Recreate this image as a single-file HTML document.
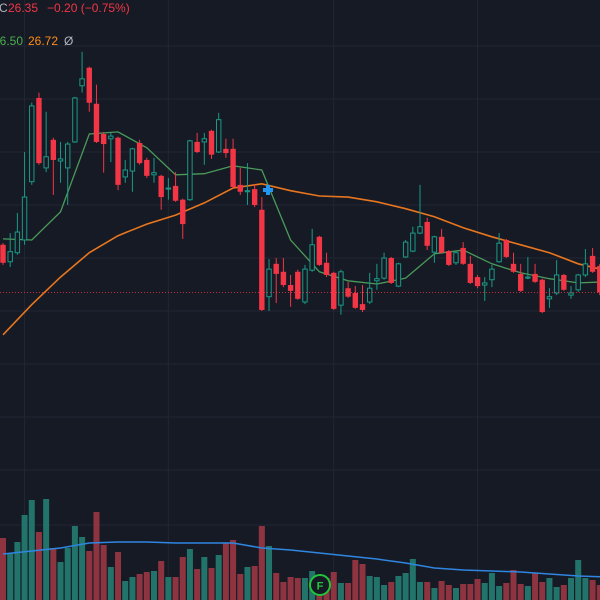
<!DOCTYPE html>
<html><head><meta charset="utf-8"><style>
html,body{margin:0;padding:0;background:#161a25;}
svg{display:block;font-family:"Liberation Sans",sans-serif;}
</style></head><body>
<svg id="chart" width="600" height="600" viewBox="0 0 600 600" xmlns="http://www.w3.org/2000/svg">
<rect x="0" y="0" width="600" height="600" fill="#161a25"/>
<g id="grid"></g>
<g id="vol"></g>
<g id="mas"></g>
<g id="candles"></g>
<line x1="0" x2="600" y1="292.5" y2="292.5" stroke="#f23645" stroke-width="1" stroke-dasharray="1,2" opacity="0.8"/>
<g>
<text x="-1" y="12" font-size="12" fill="#b2b5be">C</text>
<text x="8" y="12" font-size="12" fill="#f23645">26.35</text>
<text x="47" y="12" font-size="12" fill="#f23645">−0.20 (−0.75%)</text>
<text x="-7" y="45" font-size="12" fill="#4caf50">26.50</text>
<text x="28" y="45" font-size="12" fill="#ff8c1a">26.72</text>
<text x="64" y="45" font-size="12" fill="#b2b5be">Ø</text>
</g>
<g fill="#2196f3">
<rect x="263" y="188" width="10" height="4"/><rect x="266" y="185" width="4" height="10"/>
</g>
<g>
<circle cx="320" cy="585" r="10" fill="#161a25" stroke="#22c43a" stroke-width="2"/>
<text x="320" y="589.5" font-size="11" font-weight="bold" fill="#22c43a" text-anchor="middle">F</text>
</g>
</svg>
<script>
// candle data: open, high, low, close
const opens=[27.25,26.93,27.10,27.34,28.44,30.02,28.70,29.23,28.83,28.70,29.19,30.25,30.59,29.91,29.34,29.25,29.27,28.53,28.64,29.17,28.85,28.57,28.55,28.30,28.36,28.10,28.10,29.19,29.19,29.40,29.00,29.06,29.06,28.38,28.25,28.30,27.91,26.27,26.89,26.74,26.49,26.74,26.17,26.77,27.40,26.91,26.72,26.11,26.43,26.34,26.13,26.17,26.57,26.62,27.00,26.47,27.02,27.13,27.47,27.68,27.11,27.40,27.13,26.91,27.19,26.89,26.64,26.49,26.59,26.93,27.34,26.89,26.70,26.62,26.70,26.59,26.23,26.34,26.68,26.30,26.40,26.68,27.04,26.85];
const highs=[27.28,27.47,27.85,29.00,29.93,30.12,29.76,29.27,29.19,29.19,30.04,30.89,30.61,30.27,29.38,29.36,29.29,28.85,29.08,29.23,28.89,28.89,28.57,28.51,28.62,28.12,29.23,29.36,29.36,29.42,29.74,29.25,29.25,28.70,28.79,28.38,28.15,26.98,27.00,27.00,26.68,26.78,26.87,27.55,27.42,27.10,26.74,26.78,26.55,26.47,26.49,26.72,26.89,27.10,27.02,26.91,27.34,27.59,28.38,27.76,27.42,27.55,27.15,27.13,27.30,27.04,26.68,26.64,26.87,27.47,27.36,27.10,26.89,27.02,26.89,26.61,26.43,26.96,26.70,26.47,26.70,27.17,27.19,26.89];
const lows=[26.87,26.83,27.06,27.25,28.38,28.76,28.62,28.19,28.42,28.00,29.17,30.12,29.76,29.17,28.61,28.81,28.28,28.42,28.25,28.76,28.51,28.42,27.91,28.10,28.06,27.36,28.08,28.98,28.76,28.87,28.98,28.89,28.32,28.19,28.00,27.96,26.00,26.00,26.15,26.45,26.08,26.21,26.13,26.74,26.85,26.64,26.02,25.93,26.25,26.04,25.98,26.13,26.40,26.59,26.51,26.45,27.00,27.11,27.45,27.15,26.91,27.08,26.85,26.87,26.87,26.51,26.43,26.19,26.45,26.91,27.00,26.72,26.36,26.60,26.53,25.96,26.06,26.30,26.38,26.23,26.36,26.64,26.72,26.30];
const closes=[26.91,27.12,27.49,28.15,29.87,28.79,28.91,28.85,28.87,29.15,30.02,30.38,29.93,29.19,29.15,29.30,28.38,28.66,29.06,28.79,28.55,28.61,28.15,28.32,28.08,27.64,29.21,29.00,29.25,28.95,29.61,28.98,28.34,28.25,28.27,28.00,26.02,26.79,26.70,26.49,26.38,26.23,26.79,27.25,26.87,26.68,26.04,26.74,26.27,26.06,26.02,26.43,26.61,27.00,26.53,26.89,27.30,27.47,27.59,27.23,27.40,27.10,26.87,27.10,26.89,26.53,26.47,26.53,26.79,27.28,27.02,26.74,26.38,26.64,26.55,25.98,26.27,26.68,26.40,26.34,26.68,26.89,26.74,26.35];
const volumes=[62,47,58,85,100,68,101,52,38,52,74,63,49,88,55,33,48,19,23,26,28,29,39,23,23,43,51,31,43,32,45,57,60,26,33,34,74,54,27,18,23,22,22,29,15,22,28,17,17,40,36,24,23,15,18,24,27,41,18,18,12,19,15,12,16,16,21,17,27,14,17,30,16,14,27,18,22,13,15,22,40,22,20,15];
// moving averages sampled every 4 candles
const maStep=4;
const maShort=[27.36,27.34,27.87,29.34,29.38,29.08,28.57,28.59,28.74,28.66,27.34,26.74,26.57,26.51,26.62,27.08,27.15,26.89,26.72,26.61,26.53,26.55];
const maLong=[25.55,26.12,26.64,27.10,27.42,27.64,27.81,28.04,28.32,28.40,28.27,28.17,28.15,28.06,27.93,27.78,27.57,27.40,27.25,27.10,26.89,26.76];
const volMA=[46,49,52,57,58,58,57,57,57,52,50,47,44,41,37,32,30,29,28,26,24,23];
const priceGrid=[31,30,29,28,27,26,25,24,23];
const volGridVals=[75];

const NS="http://www.w3.org/2000/svg";
const X0=3, STEP=7.19;
function xAt(i){return X0+i*STEP;}
function yP(p){return 99+(30-p)*53;}
function yV(v){return 600-v;}
function mk(tag,attrs,parent){const e=document.createElementNS(NS,tag);for(const k in attrs)e.setAttribute(k,attrs[k]);parent.appendChild(e);return e;}

const grid=document.getElementById('grid');
priceGrid.forEach(p=>{
  const l=mk('line',{x1:0,x2:600,y1:yP(p),y2:yP(p),stroke:'#232632','stroke-width':1},grid);
  
  
});
volGridVals.forEach(v=>{
  const l=mk('line',{x1:0,x2:600,y1:yV(v),y2:yV(v),stroke:'#232632','stroke-width':1},grid);
  
  
});
[3,23,46,66].forEach(i=>{
  const l=mk('line',{x1:xAt(i),x2:xAt(i),y1:0,y2:600,stroke:'#232632','stroke-width':1},grid);
  
  
});

const vol=document.getElementById('vol');
volumes.forEach((v,i)=>{
  const up=closes[i]>=opens[i];
  const r=mk('rect',{x:xAt(i)-3,y:yV(v),width:6,height:v,fill:up?'#22736a':'#8e3440'},vol);
  
  
});
function linePath(arr,fn){return arr.map((v,k)=>(k?'L':'M')+xAt(k*maStep).toFixed(1)+' '+fn(v).toFixed(1)).join(' ');}
const vm=mk('path',{d:linePath(volMA,yV),fill:'none',stroke:'#2f86e0','stroke-width':1.5},vol);



const mas=document.getElementById('mas');
const ml=mk('path',{d:linePath(maLong,yP),fill:'none',stroke:'#e8761e','stroke-width':1.6},mas);


const msl=mk('path',{d:linePath(maShort,yP),fill:'none',stroke:'#4a9a5a','stroke-width':1.3},mas);



const cg=document.getElementById('candles');
opens.forEach((o,i)=>{
  const c=closes[i], up=c>=o, col=up?'#1a9a86':'#f23645';
  const x=xAt(i);
  const g=mk('g',{},cg);
  
  
  mk('line',{x1:x,x2:x,y1:yP(highs[i]),y2:yP(lows[i]),stroke:col,'stroke-width':1},g);
  const top=yP(Math.max(o,c)), bot=yP(Math.min(o,c));
  const h=Math.max(1,bot-top);
  if(up){
    mk('rect',{x:x-2.2,y:top,width:4.4,height:h,fill:'#161a25',stroke:col,'stroke-width':1},g);
  }else{
    mk('rect',{x:x-2.7,y:top,width:5.4,height:h,fill:col},g);
  }
});
</script>
</body></html>
